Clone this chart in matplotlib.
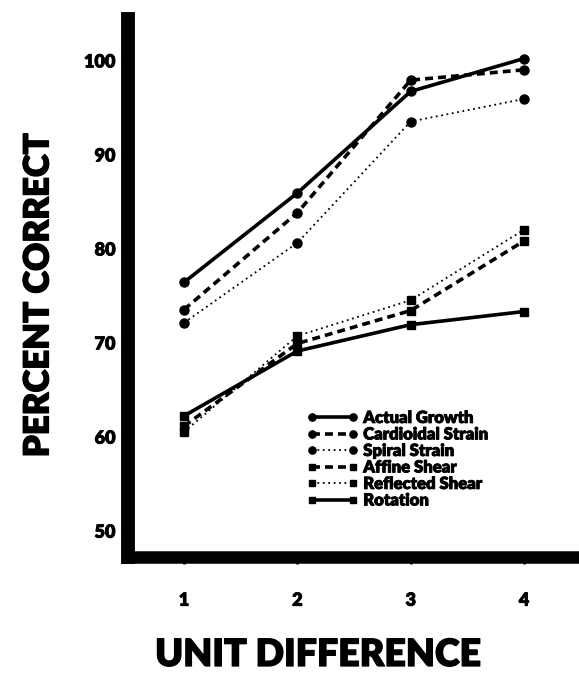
import matplotlib
matplotlib.use("Agg")
import matplotlib.pyplot as plt
import matplotlib.patheffects as pe

x = [1, 2, 3, 4]
series_names = ["Actual Growth", "Cardioidal Strain", "Spiral Strain",
                "Affine Shear", "Reflected Shear", "Rotation"]
actual_growth = [76.4, 85.9, 96.7, 100.2]
cardioidal_strain = [73.5, 83.8, 97.9, 99.0]
spiral_strain = [72.1, 80.6, 93.5, 95.9]
affine_shear = [61.1, 69.9, 73.4, 80.8]
reflected_shear = [60.5, 70.7, 74.5, 82.0]
rotation = [62.2, 69.1, 71.9, 73.3]
xticks = [1, 2, 3, 4]
yticks = [50, 60, 70, 80, 90, 100]

values = [actual_growth, cardioidal_strain, spiral_strain,
          affine_shear, reflected_shear, rotation]
styles = [
    dict(ls="-", lw=2.6, marker="o", ms=6.5),
    dict(ls=(0, (2.2, 1.4)), lw=2.6, marker="o", ms=6.5),
    dict(ls=(0, (1, 2)), lw=1.3, marker="o", ms=6.5),
    dict(ls=(0, (2.2, 1.4)), lw=2.6, marker="s", ms=6),
    dict(ls=(0, (1, 2)), lw=1.3, marker="s", ms=6),
    dict(ls="-", lw=2.6, marker="s", ms=6),
]

font = "Lato"
thick = [pe.withStroke(linewidth=0.9, foreground="black")]
thin = [pe.withStroke(linewidth=0.6, foreground="black")]

fig = plt.figure(figsize=(5.79, 6.75), dpi=100)
ax = fig.add_axes([128 / 579, (675 - 557) / 675, (579 - 128) / 579, (557 - 19) / 675])

for name, vals, st in zip(series_names, values, styles):
    ax.plot(x, vals, color="black", label=name, solid_capstyle="butt",
            dash_capstyle="butt", **st)

ax.set_xlim(0.506, 4.485)
ax.set_ylim(47.2, 104.4)
ax.set_xticks(xticks)
ax.set_yticks(yticks)
ax.set_xticklabels([str(v) for v in xticks], fontfamily=font, fontweight="heavy", fontsize=13)
ax.set_yticklabels([str(v) for v in yticks], fontfamily=font, fontweight="heavy", fontsize=13)
for t in ax.get_xticklabels() + ax.get_yticklabels():
    t.set_path_effects(thin)
ax.tick_params(axis="both", width=2, length=5, color="black", pad=4)
ax.tick_params(axis="x", pad=20)

for side in ["top", "right"]:
    ax.spines[side].set_visible(False)
ax.spines["left"].set_linewidth(10)
ax.spines["bottom"].set_linewidth(9)

yl = ax.set_ylabel("PERCENT CORRECT", fontfamily=font, fontweight="heavy", fontsize=25,
                   path_effects=thick)
ax.yaxis.set_label_coords((38 - 128) / 451, (557 - 295) / 538)
yl.set_va("center")
xl = ax.set_xlabel("UNIT DIFFERENCE", fontfamily=font, fontweight="heavy", fontsize=27,
                   path_effects=thick)
ax.xaxis.set_label_coords((318 - 128) / 451, (557 - 655) / 538)
xl.set_va("center")

leg = ax.legend(loc="upper left", bbox_to_anchor=(0.37, 0.295), frameon=False,
                prop=dict(family=font, weight="heavy", size=12),
                handlelength=3.1, handletextpad=0.3, labelspacing=0.03,
                numpoints=2, borderpad=0.2, markerscale=0.8)
for t in leg.get_texts():
    t.set_path_effects(thin)

fig.savefig("out.png", dpi=100)
